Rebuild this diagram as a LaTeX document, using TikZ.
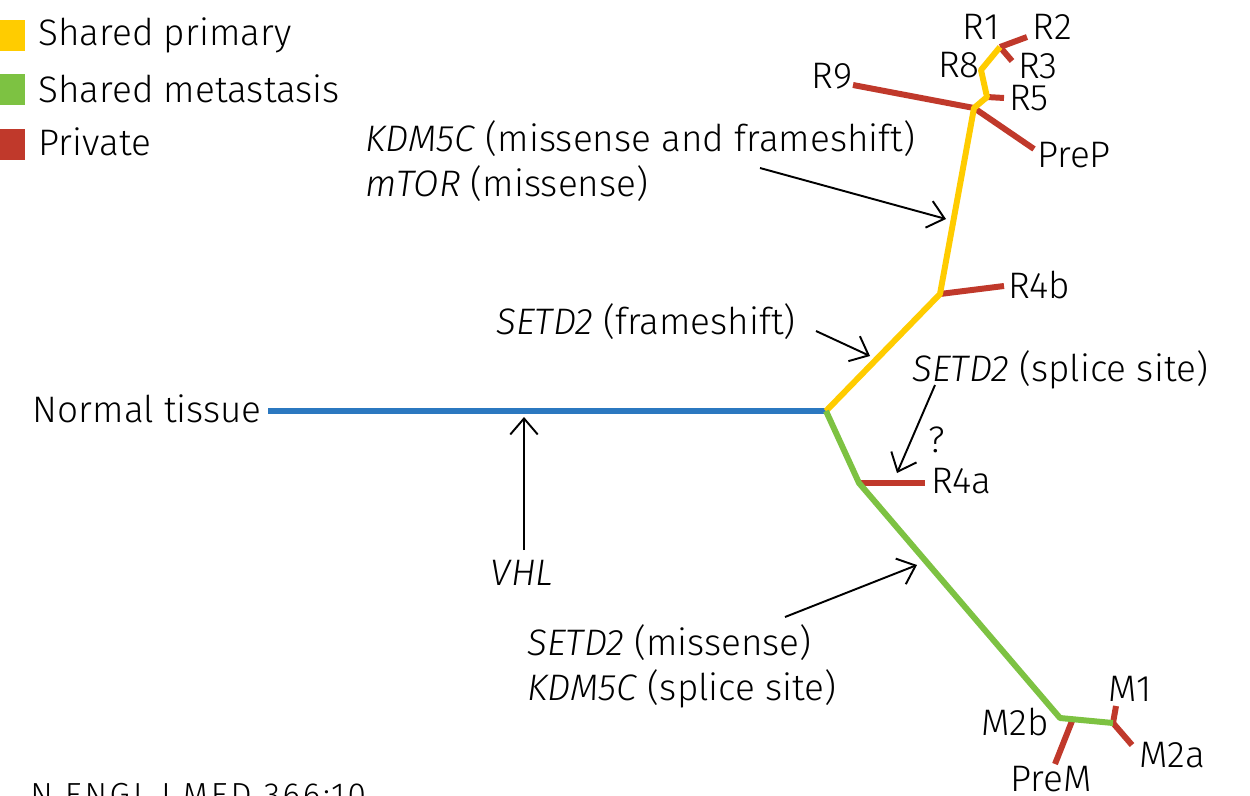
\documentclass[tikz,border=0pt]{standalone}
\usepackage{fontspec}
\setmainfont{Fira Sans}[UprightFont=* Light, ItalicFont=* Light Italic]
\usetikzlibrary{arrows.meta}
\definecolor{cblue}{HTML}{2B78C0}
\definecolor{cyellow}{HTML}{FFCC00}
\definecolor{cgreen}{HTML}{7DC242}
\definecolor{cred}{HTML}{C0392B}
\tikzset{
  lbl/.style={inner sep=0pt, font=\fontsize{21}{26}\selectfont},
  branch/.style={line width=3.4pt, line cap=butt, line join=round},
  pointer/.style={line width=1.1pt, -{Straight Barb[length=3.2mm,width=5.5mm]}},
  legsq/.style={inner sep=0pt, minimum width=0.62cm, minimum height=0.62cm}
}
\begin{document}
\begin{tikzpicture}[x=0.02cm,y=-0.02cm]
\useasboundingbox (0,0) rectangle (1250,795);
\clip (0,0) rectangle (1250,795);
% legend
\node[legsq, fill=cyellow] (ly) at (10,35.5) {};
\node[legsq, fill=cgreen] (lg) at (10,89) {};
\node[legsq, fill=cred] (lr) at (10,144) {};
\node[lbl, anchor=west] (tly) at (38,35) {Shared primary};
\node[lbl, anchor=west] (tlg) at (38,89) {Shared metastasis};
\node[lbl, anchor=west] (tlr) at (38,142) {Private};
% tree points
\coordinate (n0) at (268,411);
\coordinate (b0) at (826,411);
\coordinate (p1) at (940,294);
\coordinate (p2) at (974,108);
\coordinate (p3) at (987,97);
\coordinate (p4) at (981,70);
\coordinate (p5) at (1000,47);
\coordinate (m1) at (859,483);
\coordinate (m2) at (1060,718);
\coordinate (m3) at (1113,723);
% leaf ends
\coordinate (eR9) at (853,85);
\coordinate (ePreP) at (1034,149);
\coordinate (eR5) at (1004,98);
\coordinate (eR2) at (1027,37);
\coordinate (eR3) at (1012,61);
\coordinate (eR4b) at (1004,286);
\coordinate (eR4a) at (925,483);
\coordinate (eM1) at (1116,706);
\coordinate (eM2a) at (1132,745);
\coordinate (pm) at (1072,721);
\coordinate (ePreM) at (1055,764);
% branches
\draw[branch, cblue] (n0) -- (b0);
\draw[branch, cred] (p1) -- (eR4b);
\draw[branch, cred] (eR9) -- (p2);
\draw[branch, cred] (p2) -- (ePreP);
\draw[branch, cred] (p3) -- (eR5);
\draw[branch, cred] (p5) -- (eR2);
\draw[branch, cred] (p5) -- (eR3);
\draw[branch, cyellow] (b0) -- (p1) -- (p2) -- (p3) -- (p4) -- (p5);
\draw[branch, cred] (m1) -- (eR4a);
\draw[branch, cred] (m3) -- (eM1);
\draw[branch, cred] (m3) -- (eM2a);
\draw[branch, cred] (pm) -- (ePreM);
\draw[branch, cgreen] (b0) -- (m1) -- (m2) -- (m3);
% leaf labels
\node[lbl] (R1) at (981,27) {R1};
\node[lbl] (R2) at (1052,27) {R2};
\node[lbl] (R8) at (959,65) {R8};
\node[lbl] (R3) at (1038,66) {R3};
\node[lbl] (R5) at (1029,98) {R5};
\node[lbl] (R9) at (832,76) {R9};
\node[lbl] (PreP) at (1074,155) {PreP};
\node[lbl] (R4b) at (1039,285) {R4b};
\node[lbl] (R4a) at (961,481) {R4a};
\node[lbl] (q) at (937,440) {?};
\node[lbl] (M1) at (1130,689) {M1};
\node[lbl] (M2b) at (1015,722) {M2b};
\node[lbl] (M2a) at (1172,755) {M2a};
\node[lbl] (PreM) at (1051,779) {PreM};
\node[lbl, anchor=east] (normal) at (262,409) {Normal tissue};
% annotations
\node[lbl] (vhl) at (522,573) {\textit{VHL}};
\node[lbl, anchor=west] (sfs) at (496,322) {\textit{SETD2} (frameshift)};
\node[lbl, anchor=north west, align=left] (kdm) at (365,120) {\textit{KDM5C} (missense and frameshift)\\\textit{mTOR} (missense)};
\node[lbl, anchor=west] (sss) at (912,370) {\textit{SETD2} (splice site)};
\node[lbl, anchor=north west, align=left] (smk) at (527,624) {\textit{SETD2} (missense)\\\textit{KDM5C} (splice site)};
\node[inner sep=0pt, anchor=north west, font=\fontsize{19}{22}\selectfont\addfontfeatures{LetterSpace=8}] (cite) at (30,783) {N ENGL J MED 366;10};
% arrow targets
\coordinate (tVHL) at (524,417);
\coordinate (tsfs) at (870,356);
\coordinate (tkdm) at (946,219);
\coordinate (tsss) at (897,473);
\coordinate (tsmk) at (917,565);
\coordinate (sVHL) at (524,550);
\coordinate (ssfs) at (816,331);
\coordinate (skdm) at (760,168);
\coordinate (ssss) at (935,385);
\coordinate (ssmk) at (785,617);
\draw[pointer] (sVHL) -- (tVHL);
\draw[pointer] (ssfs) -- (tsfs);
\draw[pointer] (skdm) -- (tkdm);
\draw[pointer] (ssss) -- (tsss);
\draw[pointer] (ssmk) -- (tsmk);
\end{tikzpicture}
\end{document}
